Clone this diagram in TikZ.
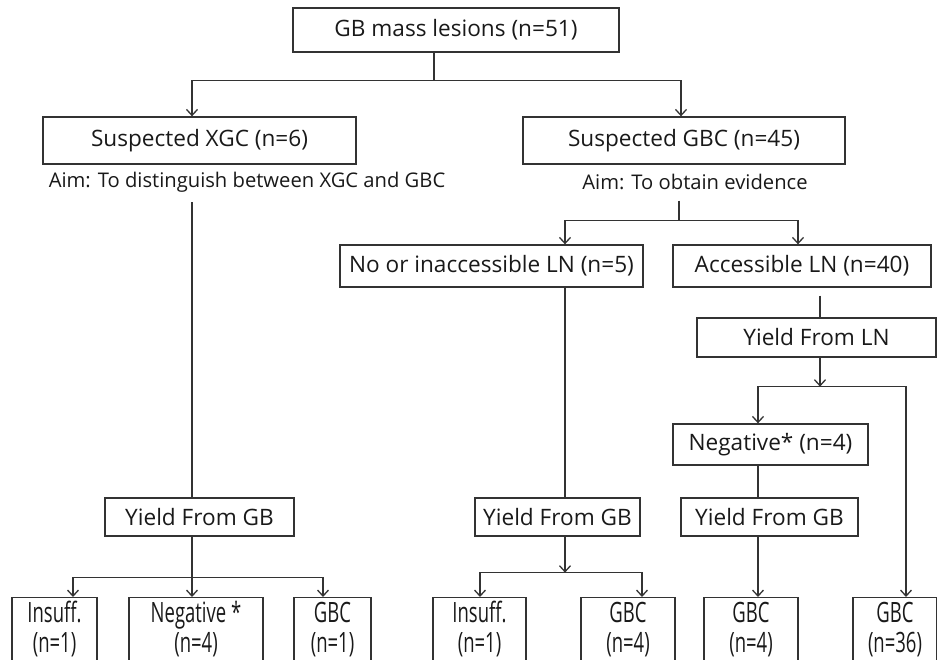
\documentclass[tikz,border=0pt]{standalone}
\usepackage{fontspec}
\setmainfont{Open Sans}
\newfontfamily\narrowfont[FakeStretch=0.66]{Open Sans}
\usetikzlibrary{arrows.meta}

\newcommand{\twoline}[2]{\begin{tabular}[t]{@{}c@{}}#1\\#2\end{tabular}}

\begin{document}
\begin{tikzpicture}[x=1pt, y=-1pt,
    box/.style={draw=black!80, line width=1.3pt, inner sep=0pt, text=black!90, font=\fontsize{22.6}{26}\selectfont},
    leaf/.style={box, anchor=north, font=\narrowfont\fontsize{28}{30}\selectfont, text height=25pt, text depth=42pt},
    aim/.style={inner sep=0pt, text=black!90, font=\fontsize{20.2}{24}\selectfont},
    link/.style={draw=black!80, line width=1.3pt},
    arr/.style={link, -{Straight Barb[length=6pt, width=11pt]}}]
    \useasboundingbox (0,0) rectangle (937,660);
    \clip (0,0) rectangle (937,660);

    % Top level
    \node[box, minimum width=326, minimum height=44] (mass) at (456,30) {GB mass lesions (n=51)};
    \node[box, minimum width=313, minimum height=47] (xgc) at (199.5,140.5) {Suspected XGC (n=6)};
    \node[box, minimum width=322, minimum height=47] (gbc) at (684,140.5) {Suspected GBC (n=45)};
    \node[aim] (aimxgc) at (247,182) {Aim: To distinguish between XGC and GBC};
    \node[aim] (aimgbc) at (695,182) {Aim: To obtain evidence};

    % Lymph node boxes
    \node[box, minimum width=303, minimum height=42] (noln) at (491.5,266) {No or inaccessible LN (n=5)};
    \node[box, minimum width=258, minimum height=42] (accln) at (802,266) {Accessible LN (n=40)};
    \node[box, minimum width=239, minimum height=39] (yieldln) at (816.5,337.5) {Yield From LN};
    \node[box, minimum width=195, minimum height=41] (negln) at (770.5,444.5) {Negative* (n=4)};

    % Yield from GB
    \node[box, minimum width=189, minimum height=38] (yieldgbl) at (199.5,517) {Yield From GB};
    \node[box, minimum width=165, minimum height=38] (yieldgbm) at (557.5,517) {Yield From GB};
    \node[box, minimum width=177, minimum height=38] (yieldgbr) at (769.5,517) {Yield From GB};

    % Outcomes
    \node[leaf, minimum width=85] (insl) at (54.5,597) {\twoline{Insuff.}{(n=1)}};
    \node[leaf, minimum width=134] (negl) at (196,597) {\twoline{Negative *}{(n=4)}};
    \node[leaf, minimum width=77] (gbcl) at (332.5,597) {\twoline{GBC}{(n=1)}};
    \node[leaf, minimum width=93] (insm) at (479.5,597) {\twoline{Insuff.}{(n=1)}};
    \node[leaf, minimum width=94] (gbcm) at (628,597) {\twoline{GBC}{(n=4)}};
    \node[leaf, minimum width=94] (gbcr) at (751,597) {\twoline{GBC}{(n=4)}};
    \node[leaf, minimum width=84] (gbcn) at (895,597) {\twoline{GBC}{(n=36)}};

    % Split of all lesions
    \draw[link] ([xshift=-22pt]mass.south) -- ++(0,28) coordinate (s1);
    \draw[arr] (s1) -| ([xshift=-7.5pt]xgc.north);
    \draw[arr] (s1) -| ([xshift=-3pt]gbc.north);

    % XGC branch
    \draw[link] ([xshift=-7.5pt]yieldgbl.north) -- ++(0,-295);
    \draw[link] ([xshift=-7.5pt]yieldgbl.south) -- ++(0,41) coordinate (s5);
    \draw[arr] (s5) -| ([xshift=18.5pt]insl.north);
    \draw[arr] (s5) -- (negl.north -| s5);
    \draw[arr] (s5) -| ([xshift=-9.5pt]gbcl.north);

    % GBC branch
    \draw[link] ([xshift=-5pt]gbc.south) ++(0,36) -- ++(0,20) coordinate (s2);
    \draw[arr] (s2) -| ([xshift=73.5pt]noln.north);
    \draw[arr] (s2) -| ([xshift=-4pt]accln.north);

    % No LN
    \draw[link] ([xshift=73.5pt]noln.south) -- ([xshift=7.5pt]yieldgbm.north);
    \draw[arr] ([xshift=7.5pt]yieldgbm.south) -- ++(0,36) coordinate (s3);
    \draw[arr] (s3) -| ([xshift=0.5pt]insm.north);
    \draw[arr] (s3) -| ([xshift=14pt]gbcm.north);

    % Accessible LN
    \draw[link] ([xshift=18pt]accln.south) ++(0,8) -- ([xshift=3.5pt]yieldln.north);
    \draw[arr] ([xshift=3.5pt]yieldln.south) -- ++(0,29) coordinate (s4);
    \draw[arr] (s4) -| ([xshift=-12.5pt]negln.north);
    \draw[arr] (s4) -| ([xshift=11pt]gbcn.north);
    \draw[link] ([xshift=-12.5pt]negln.south) -- ([xshift=-11.5pt]yieldgbr.north);
    \draw[arr] ([xshift=-11.5pt]yieldgbr.south) -- ([xshift=7pt]gbcr.north);
\end{tikzpicture}
\end{document}
